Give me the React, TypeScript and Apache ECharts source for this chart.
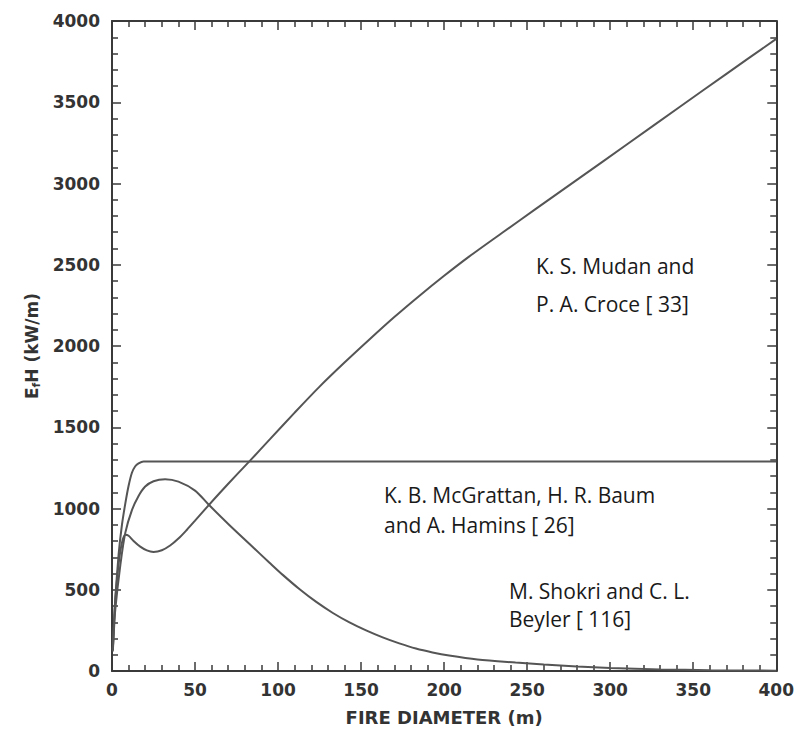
import React, { useEffect, useRef } from "react";
import * as echarts from "echarts";

// Fire diameter (m) and E_f H (kW/m)
const mudanD = [0.5, 1, 2, 4, 6, 8, 10, 13, 17, 21, 25, 30, 35, 40, 45, 50, 58, 65, 75, 83, 95, 110, 125, 140, 155, 170, 185, 200, 215, 235, 255, 281, 310, 342, 370, 400];
const mudanE = [130, 260, 440, 660, 790, 838, 832, 800, 765, 742, 733, 743, 772, 815, 868, 925, 1018, 1097, 1207, 1293, 1425, 1590, 1750, 1898, 2040, 2178, 2308, 2432, 2550, 2697, 2842, 3030, 3240, 3472, 3675, 3890];

const mcgrattanD = [0.5, 1, 2, 4, 6, 8, 10, 12, 14, 16, 19, 100, 200, 300, 400];
const mcgrattanE = [130, 250, 450, 720, 900, 1030, 1140, 1220, 1260, 1278, 1290, 1290, 1290, 1290, 1290];

const shokriD = [0.5, 1, 2, 5, 8, 12, 16, 20, 25, 32, 40, 50, 58, 70, 83, 95, 103, 113, 123, 133, 143, 153, 163, 173, 183, 193, 203, 220, 243, 260, 280, 300, 330, 360, 400];
const shokriE = [120, 220, 380, 650, 850, 990, 1077, 1135, 1168, 1180, 1165, 1110, 1026, 905, 780, 665, 590, 503, 425, 357, 299, 250, 207, 170, 138, 114, 95, 71, 52, 40, 28, 19, 10, 5, 2];

const xTicks = [0, 50, 100, 150, 200, 250, 300, 350, 400];
const yTicks = [0, 500, 1000, 1500, 2000, 2500, 3000, 3500, 4000];

const notes = [
  { lines: ["K. S. Mudan and", "P. A. Croce [ 33]"], x: 536, y: [268, 306] },
  { lines: ["K. B. McGrattan, H. R. Baum", "and A. Hamins [ 26]"], x: 384, y: [497, 527] },
  { lines: ["M. Shokri and C. L.", "Beyler [ 116]"], x: 509, y: [593, 621] },
];

const pairs = (xs: number[], ys: number[]) => xs.map((x, i) => [x, ys[i]]);

const AXIS_COLOR = "#3a3a3a";
const LINE_COLOR = "#555555";
const tickFont = { fontFamily: "DejaVu Sans", fontWeight: "bold" as const, fontSize: 17, color: "#333" };

export default function App() {
  const ref = useRef<HTMLDivElement>(null);
  useEffect(() => {
    if (!ref.current) return;
    const chart = echarts.init(ref.current, undefined, { renderer: "svg" });
    const axisCommon = {
      axisLine: { show: true, onZero: false, lineStyle: { color: AXIS_COLOR, width: 2 } },
      axisTick: { show: true, inside: true, length: 9, lineStyle: { color: AXIS_COLOR, width: 1.5 } },
      minorTick: { show: true, splitNumber: 5, length: 6, lineStyle: { color: AXIS_COLOR, width: 1.5 } },
      splitLine: { show: false },
      minorSplitLine: { show: false },
    };
    const seriesCommon = {
      type: "line" as const,
      xAxisIndex: 0,
      yAxisIndex: 0,
      showSymbol: false,
      symbol: "none",
      smooth: 0.3,
      lineStyle: { color: LINE_COLOR, width: 2 },
    };
    const graphics: any[] = [];
    notes.forEach((n) =>
      n.lines.forEach((t, i) =>
        graphics.push({
          type: "text",
          left: n.x,
          top: n.y[i] - 13,
          style: { text: t, fill: "#1a1a1a", font: "21px 'Open Sans'", textVerticalAlign: "top" },
        })
      )
    );
    const fmt = (v: number) => String(v);
    chart.setOption({
      animation: false,
      backgroundColor: "#ffffff",
      grid: { left: 112, top: 21, right: 20, bottom: 59, containLabel: false },
      xAxis: [
        {
          ...axisCommon,
          type: "value",
          position: "bottom",
          min: xTicks[0],
          max: xTicks[xTicks.length - 1],
          interval: 50,
          axisLabel: { ...tickFont, margin: 10, formatter: fmt },
          name: "FIRE DIAMETER (m)",
          nameLocation: "middle",
          nameGap: 37,
          nameTextStyle: { fontFamily: "DejaVu Sans", fontWeight: "bold", fontSize: 18, color: "#333" },
        },
        {
          ...axisCommon,
          type: "value",
          position: "top",
          min: xTicks[0],
          max: xTicks[xTicks.length - 1],
          interval: 50,
          axisLabel: { show: false },
        },
      ],
      yAxis: [
        {
          ...axisCommon,
          type: "value",
          position: "left",
          min: yTicks[0],
          max: yTicks[yTicks.length - 1],
          interval: 500,
          axisLabel: { ...tickFont, margin: 12, formatter: fmt },
          name: "{a|E}{b|f}{a|H (kW/m)}",
          nameLocation: "middle",
          nameGap: 69,
          nameRotate: 90,
          nameTextStyle: {
            rich: {
              a: { fontFamily: "DejaVu Sans", fontWeight: "bold", fontSize: 17, color: "#333" },
              b: { fontFamily: "DejaVu Sans", fontWeight: "bold", fontSize: 11, color: "#333", verticalAlign: "bottom", padding: [9, 0, 0, 0] },
            },
          },
        },
        {
          ...axisCommon,
          type: "value",
          position: "right",
          min: yTicks[0],
          max: yTicks[yTicks.length - 1],
          interval: 500,
          axisLabel: { show: false },
        },
      ],
      series: [
        { ...seriesCommon, name: "Mudan and Croce", data: pairs(mudanD, mudanE) },
        { ...seriesCommon, name: "McGrattan, Baum and Hamins", smooth: 0.2, data: pairs(mcgrattanD, mcgrattanE) },
        { ...seriesCommon, name: "Shokri and Beyler", data: pairs(shokriD, shokriE) },
      ],
      graphic: graphics,
    });
    return () => chart.dispose();
  }, []);
  return (
    <div
      ref={ref}
      style={{ position: "fixed", left: 0, top: 0, width: 797, height: 731, background: "#fff" }}
    />
  );
}
